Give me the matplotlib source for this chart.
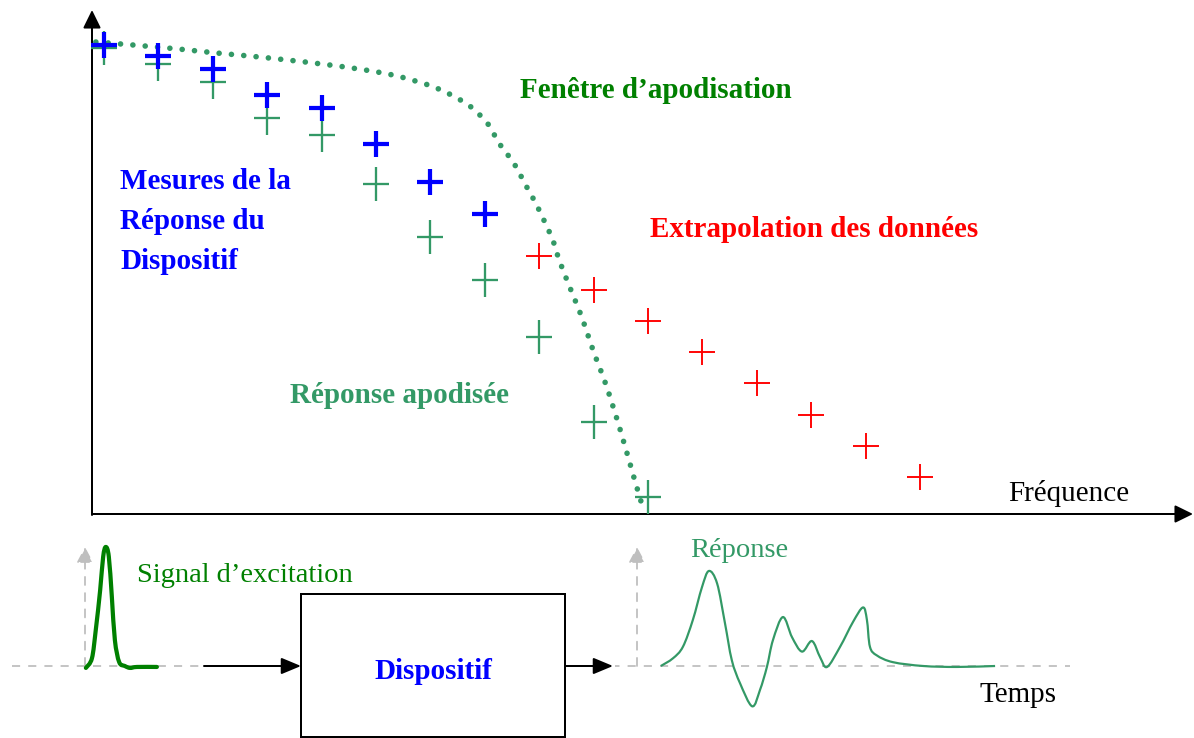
"""
plot.py

Apodisation / extrapolation diagram: frequency response markers on top,
time-domain excitation -> device -> response chain below.
"""

import numpy as np
import matplotlib
matplotlib.use("Agg")
import matplotlib.pyplot as plt
from matplotlib.path import Path
from matplotlib.patches import Rectangle, PathPatch
from matplotlib.transforms import Affine2D


plt.rcParams["font.family"] = ["Liberation Serif", "DejaVu Serif"]


# ------------------------------------------------------
# Data
# ------------------------------------------------------

# frequency samples (index) and normalised amplitudes
measured_idx = [0, 1, 2, 3, 4, 5, 6, 7]
measured_amp = [0.994, 0.970, 0.943, 0.888, 0.860, 0.784, 0.703, 0.636]

apodised_idx = [0, 1, 2, 3, 4, 5, 6, 7, 8, 9, 10]
apodised_amp = [0.987, 0.953, 0.915, 0.839, 0.803, 0.699,
                0.587, 0.496, 0.375, 0.195, 0.036]

extrapolated_idx = [8, 9, 10, 11, 12, 13, 14, 15]
extrapolated_amp = [0.547, 0.475, 0.409, 0.343, 0.278, 0.210, 0.144, 0.078]

window_idx = [-0.15, 0.50, 1.38, 2.04, 2.70, 3.36, 4.03, 4.67, 5.31,
              5.96, 6.38, 6.75, 7.06, 7.26, 7.54, 7.76, 7.96, 8.24,
              8.38, 8.62, 8.79, 8.99, 9.23, 9.49, 9.74, 9.93]
window_amp = [1.000, 0.994, 0.985, 0.977, 0.970, 0.962, 0.953, 0.943, 0.930,
              0.909, 0.888, 0.862, 0.826, 0.786, 0.742, 0.695, 0.653, 0.583,
              0.534, 0.464, 0.415, 0.347, 0.273, 0.178, 0.078, 0.004]

# time-domain signals (arbitrary time units, normalised amplitude)
excitation_t = [0.02, 0.16, 0.25, 0.35, 0.42, 0.48, 0.55, 0.62, 0.69,
                0.79, 0.92, 1.04, 1.20, 1.66]
excitation_amp = [-0.02, 0.08, 0.38, 0.79, 1.14, 1.24, 1.14, 0.72, 0.27,
                  0.04, 0.0, -0.02, -0.01, -0.01]

response_t = [0.55, 0.83, 1.06, 1.29, 1.50, 1.66, 1.85, 2.03, 2.19, 2.38,
              2.66, 2.84, 3.00, 3.14, 3.37, 3.58, 3.81, 4.04, 4.23, 4.39,
              4.69, 4.99, 5.22, 5.31, 5.38, 5.54, 5.91, 6.61, 7.39, 8.27]
response_amp = [0.0, 0.08, 0.20, 0.48, 0.82, 0.99, 0.86, 0.45, 0.06, -0.18,
                -0.42, -0.25, -0.01, 0.27, 0.51, 0.30, 0.15, 0.26, 0.09, -0.01,
                0.20, 0.46, 0.61, 0.48, 0.20, 0.11, 0.04, 0.0, -0.01, 0.0]


# ------------------------------------------------------
# Style
# ------------------------------------------------------

BLUE = "#0000FF"
RED = "#FF0000"
SEA = "#339966"
GREEN = "#008000"
GREY = "#BFBFBF"

W, H = 1194, 738

# tall plus used for the apodised response
tall_plus = Path(
    [(-0.75, 0), (0.75, 0), (0, -1), (0, 1)],
    [Path.MOVETO, Path.LINETO, Path.MOVETO, Path.LINETO]
)


def px(v):
    return v * 0.72


def smooth_path(xs, ys):
    # cubic bezier through the read points (catmull-rom handles)
    p = np.column_stack([xs, ys]).astype(float)
    ext = np.vstack([p[0], p, p[-1]])
    verts = [p[0]]
    codes = [Path.MOVETO]
    for i in range(len(p) - 1):
        a, b, c, d = ext[i], ext[i + 1], ext[i + 2], ext[i + 3]
        verts += [b + (c - a) / 6, c - (d - b) / 6, c]
        codes += [Path.CURVE4] * 3
    return Path(verts, codes)


# ------------------------------------------------------
# Figure
# ------------------------------------------------------

fig = plt.figure(figsize=(W / 100, H / 100), dpi=100)

# overlay in pixel coordinates for arrows, box and labels
ov = fig.add_axes([0, 0, 1, 1])
ov.set_xlim(0, W)
ov.set_ylim(H, 0)
ov.axis("off")

# frequency chart: origin at (92, 514)
x0, y0, ytop = 92, 514, 10
step = 54.4
unit = 472
ax = fig.add_axes([x0 / W, (H - y0) / H, (W - x0) / W, (y0 - ytop) / H])
ax.set_xlim((x0 - 104) / step, (x0 - 104) / step + (W - x0) / step)
ax.set_ylim(0, (y0 - ytop) / unit)
ax.axis("off")
ax.patch.set_alpha(0)

window_patch = PathPatch(smooth_path(window_idx, window_amp), fill=False,
                         edgecolor=SEA, lw=px(5.6),
                         linestyle=(0, (0.01, 2.2)), capstyle="round",
                         clip_on=False, zorder=2)
ax.add_patch(window_patch)

ax.plot(apodised_idx, apodised_amp, linestyle="none", marker=tall_plus,
        markersize=px(34), markeredgewidth=px(2.3), color=SEA,
        clip_on=False, zorder=3)

ax.plot(measured_idx, measured_amp, linestyle="none", marker="+",
        markersize=px(26), markeredgewidth=px(4.2), color=BLUE,
        clip_on=False, zorder=4)

ax.plot(extrapolated_idx, extrapolated_amp, linestyle="none", marker="+",
        markersize=px(27), markeredgewidth=px(1.9), color=RED,
        clip_on=False, zorder=3)


# ------------------------------------------------------
# Axes arrows
# ------------------------------------------------------

def arrow(x1, y1, x2, y2, color="black", lw=2, ls="-", hl=0.55, hw=0.27,
          z=3):

    ov.annotate(
        "",
        xy=(x2, y2),
        xytext=(x1, y1),
        arrowprops=dict(
            arrowstyle=f"-|>,head_length={hl},head_width={hw}",
            color=color,
            lw=px(lw),
            linestyle=ls,
            shrinkA=0,
            shrinkB=0,
            mutation_scale=20,
        ),
        zorder=z,
    )


arrow(x0, y0 + 1, x0, ytop)
arrow(x0, y0, W - 1, y0)


# ------------------------------------------------------
# Time-domain chain
# ------------------------------------------------------

base = 666
t_scale = 43.3
a_scale = 96

ov.plot([12, 1070], [base, base], color=GREY, lw=px(1.8),
        linestyle=(0, (4.5, 4.5)), zorder=1)

arrow(85, base, 85, 547, color=GREY, lw=1.8, ls=(0, (4.5, 4.5)),
      hl=0.47, hw=0.25, z=1)
arrow(637, base, 637, 547, color=GREY, lw=1.8, ls=(0, (4.5, 4.5)),
      hl=0.47, hw=0.25, z=1)

exc_tr = Affine2D().scale(t_scale, -a_scale).translate(85, base) + ov.transData
ov.add_patch(PathPatch(smooth_path(excitation_t, excitation_amp), fill=False,
                       edgecolor=GREEN, lw=px(4.2), capstyle="round",
                       joinstyle="round", transform=exc_tr, zorder=2))

resp_tr = Affine2D().scale(t_scale, -a_scale).translate(637, base) + ov.transData
ov.add_patch(PathPatch(smooth_path(response_t, response_amp), fill=False,
                       edgecolor=SEA, lw=px(2.2), joinstyle="round",
                       transform=resp_tr, zorder=2))

ov.plot([565, 613], [base, base], color="white", lw=px(3), zorder=1.5)

arrow(204, base, 301, base, hl=0.6, hw=0.25)
arrow(565, base, 613, base, hl=0.6, hw=0.25)

ov.add_patch(Rectangle((301, 594), 264, 143, facecolor="white",
                       edgecolor="black", lw=px(2), zorder=2))


# ------------------------------------------------------
# Labels
# ------------------------------------------------------

FS = 21

ov.text(520, 98, "Fenêtre d\u2019apodisation", color=GREEN, fontsize=FS,
        fontweight="bold", va="baseline")

for i, line in enumerate(["Mesures de la", "Réponse du", "Dispositif"]):
    ov.text(120, 189 + 40 * i, line, color=BLUE, fontsize=FS,
            fontweight="bold", va="baseline")

ov.text(650, 237, "Extrapolation des données", color=RED, fontsize=FS,
        fontweight="bold", va="baseline")

ov.text(290, 403, "Réponse apodisée", color=SEA, fontsize=FS,
        fontweight="bold", va="baseline")

ov.text(1008, 501, "Fréquence", color="black", fontsize=FS, va="baseline")

ov.text(137, 582, "Signal d\u2019excitation", color=GREEN, fontsize=FS - 0.5,
        va="baseline")

ov.text(433, 679, "Dispositif", color=BLUE, fontsize=FS,
        fontweight="bold", ha="center", va="baseline", zorder=4)

ov.text(690, 557, "Réponse", color=SEA, fontsize=FS - 0.5, va="baseline")

ov.text(980, 702, "Temps", color="black", fontsize=FS, va="baseline")

fig.savefig("out.png", dpi=100)
